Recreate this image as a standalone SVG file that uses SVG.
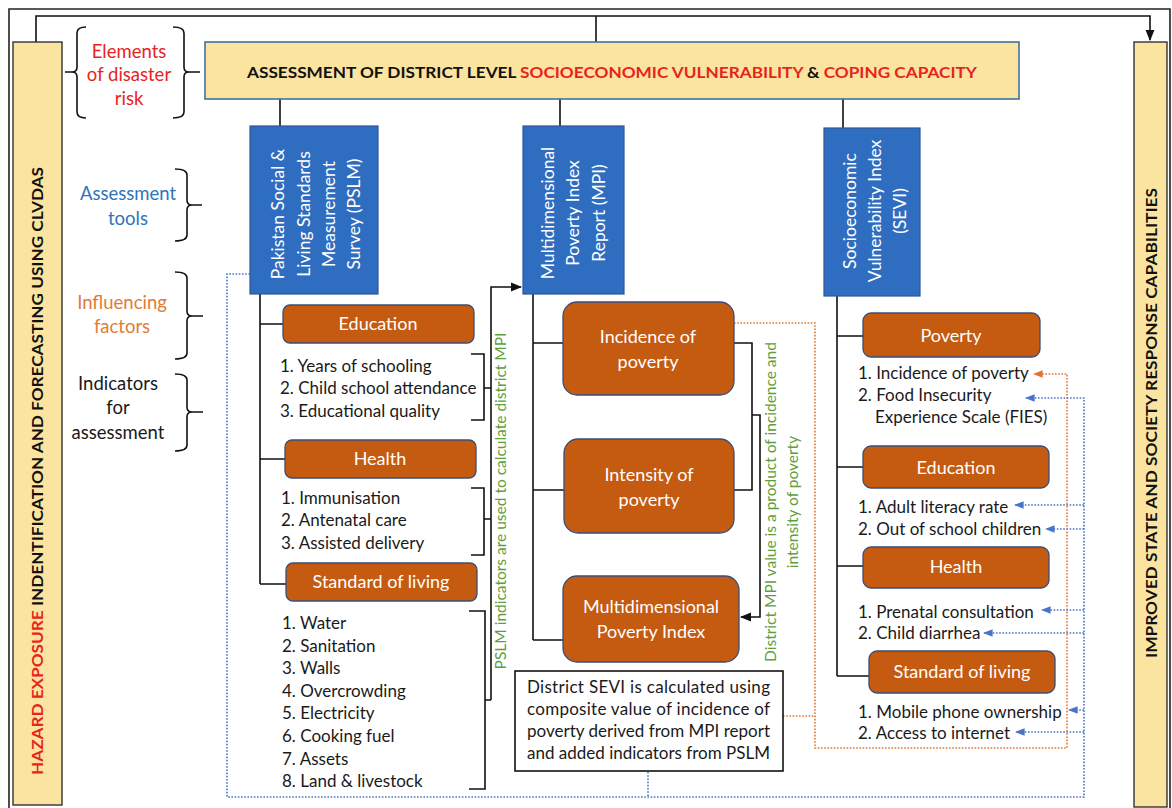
<svg xmlns="http://www.w3.org/2000/svg" width="1172" height="808" viewBox="0 0 1172 808">
<defs>
<style>
text{font-family:Lato,"Open Sans","Liberation Sans",sans-serif}
.it{font-size:17px;fill:#1a1a1a}
.ob{fill:#C55A11;stroke:#3B4E78;stroke-width:1.3}
.obt{fill:#fff;font-size:18px;text-anchor:middle}
.bb{fill:#2E6DC0;stroke:#2F5597;stroke-width:1.2}
.bbt{fill:#fff;font-size:17.5px;text-anchor:middle}
.ln{stroke:#111;stroke-width:1.6;fill:none}
.bd{stroke:#4A74C9;stroke-width:1.6;stroke-dasharray:1.6 1.6;fill:none}
.od{stroke:#E0742F;stroke-width:1.6;stroke-dasharray:1.6 1.6;fill:none}
.gr{fill:#5E9E3C;font-size:15.5px;text-anchor:middle}
.lab{font-size:18.5px;text-anchor:middle}
.red{fill:#E8231E}
</style>
<marker id="ak" viewBox="0 0 10 10" refX="9" refY="5" markerWidth="7" markerHeight="7" orient="auto"><path d="M0,1 L10,5 L0,9 Z" fill="#111"/></marker>
<marker id="ab" viewBox="0 0 10 10" refX="9" refY="5" markerWidth="6" markerHeight="6" orient="auto"><path d="M0,1 L10,5 L0,9 Z" fill="#4A74C9"/></marker>
<marker id="ao" viewBox="0 0 10 10" refX="9" refY="5" markerWidth="6" markerHeight="6" orient="auto"><path d="M0,1 L10,5 L0,9 Z" fill="#E0742F"/></marker>
</defs>
<rect width="1172" height="808" fill="#fff"/>
<path d="M9,808 V9 H1170 V808" fill="none" stroke="#222" stroke-width="1.6"/>

<g id="connectors">
<path class="ln" d="M36,42 V16 H1150 V40" marker-end="url(#ak)"/>
<path class="ln" d="M596,16 V42"/>
<path class="ln" d="M280,99 V126 M560,99 V126 M843,99 V128"/>
<path class="ln" d="M260,294 V584 M260,324 H283 M260,459 H285 M260,584 H286"/>
<path class="ln" d="M471,354 H484 V420 H471 M484,388 H491 M471,488 H484 V555 H471 M484,519 H491 M469,611 H485 V789 H469 M485,700 H491"/>
<path class="ln" d="M491,700 V287 H521" marker-end="url(#ak)"/>
<path class="ln" d="M533,294 V640 M533,343 H563 M533,490 H564 M533,640 H563"/>
<path class="ln" d="M734,343 H752 V490 H734 M752,415 H760 V617 H741" marker-end="url(#ak)"/>
<path class="ln" d="M837,296 V676 M837,336 H863 M837,467 H863 M837,566 H863 M837,676 H869"/>
<path class="bd" d="M250,274 H227 V797 H1084 V398 H1026" marker-end="url(#ab)"/>
<path class="bd" d="M1084,505 H1015" marker-end="url(#ab)"/>
<path class="bd" d="M1084,529 H1046" marker-end="url(#ab)"/>
<path class="bd" d="M1084,610 H1042" marker-end="url(#ab)"/>
<path class="bd" d="M1084,633 H984" marker-end="url(#ab)"/>
<path class="bd" d="M1084,710 H1069" marker-end="url(#ab)"/>
<path class="bd" d="M1084,732 H1016" marker-end="url(#ab)"/>
<path class="bd" d="M648,772 V797"/>
<path class="od" d="M734,323 H815 V748 H1067 V374 H1034" marker-end="url(#ao)"/>
<path class="od" d="M783,716 H815"/>
</g>

<g id="hazard">
<rect x="13" y="42" width="49" height="763" fill="#FBE3A0" stroke="#333" stroke-width="1.4"/>
<text transform="translate(37,471) rotate(-90)" y="6" text-anchor="middle" font-size="16" font-weight="bold" textLength="608" lengthAdjust="spacingAndGlyphs"><tspan class="red">HAZARD EXPOSURE</tspan><tspan fill="#111"> INDENTIFICATION AND FORECASTING USING CLVDAS</tspan></text>
</g>
<g id="improved">
<rect x="1134" y="42" width="33" height="765" fill="#FBE3A0" stroke="#333" stroke-width="1.4"/>
<text transform="translate(1151,423) rotate(-90)" y="6" text-anchor="middle" font-size="16" font-weight="bold" fill="#111" textLength="470" lengthAdjust="spacingAndGlyphs">IMPROVED STATE AND SOCIETY RESPONSE CAPABILITIES</text>
</g>
<g id="header">
<rect x="205" y="42" width="814" height="57" fill="#FBE3A0" stroke="#41719C" stroke-width="1.6"/>
<text x="612" y="78" text-anchor="middle" font-size="16" font-weight="bold" textLength="730" lengthAdjust="spacingAndGlyphs"><tspan fill="#111">ASSESSMENT OF DISTRICT LEVEL </tspan><tspan class="red">SOCIOECONOMIC VULNERABILITY</tspan><tspan fill="#111"> &amp; </tspan><tspan class="red">COPING CAPACITY</tspan></text>
</g>

<g id="labels">
<path class="ln" stroke-width="1.5" d="M86,27 Q77,27 77,33 V67 Q77,72 72,72 H65 M72,72 Q77,72 77,77 V112 Q77,118 86,118"/>
<path class="ln" stroke-width="1.5" d="M173,27 Q184,27 184,33 V67 Q184,72 189,72 H200 M189,72 Q184,72 184,77 V112 Q184,118 173,118"/>
<text class="lab red" x="129" y="58">Elements</text>
<text class="lab red" x="129" y="81">of disaster</text>
<text class="lab red" x="129" y="105">risk</text>
<path class="ln" stroke-width="1.5" d="M175,169 Q187,169 187,175 V200 Q187,205 192,205 H202 M192,205 Q187,205 187,210 V235 Q187,241 175,241"/>
<text class="lab" fill="#2E75B6" x="128" y="200">Assessment</text>
<text class="lab" fill="#2E75B6" x="128" y="225">tools</text>
<path class="ln" stroke-width="1.5" d="M175,272 Q187,272 187,278 V311 Q187,316 192,316 H203 M192,316 Q187,316 187,321 V353 Q187,359 175,359"/>
<text class="lab" fill="#E07B39" x="122" y="309">Influencing</text>
<text class="lab" fill="#E07B39" x="122" y="333">factors</text>
<path class="ln" stroke-width="1.5" d="M175,374 Q187,374 187,380 V407 Q187,412 192,412 H203 M192,412 Q187,412 187,417 V445 Q187,451 175,451"/>
<text class="lab" fill="#1a1a1a" x="118" y="390">Indicators</text>
<text class="lab" fill="#1a1a1a" x="118" y="414">for</text>
<text class="lab" fill="#1a1a1a" x="118" y="439">assessment</text>
</g>

<g id="pslm">
<rect class="bb" x="250" y="126" width="128" height="168"/>
<text class="bbt" transform="translate(278,214) rotate(-90)" y="6">Pakistan Social &amp;</text>
<text class="bbt" transform="translate(304,214) rotate(-90)" y="6">Living Standards</text>
<text class="bbt" transform="translate(329,214) rotate(-90)" y="6">Measurement</text>
<text class="bbt" transform="translate(354,214) rotate(-90)" y="6">Survey (PSLM)</text>
</g>
<g id="pslm-education">
<rect class="ob" x="283" y="305" width="191" height="38" rx="7"/>
<text class="obt" x="378" y="330">Education</text>
<text class="it" x="280" y="372">1. Years of schooling</text>
<text class="it" x="280" y="394">2. Child school attendance</text>
<text class="it" x="280" y="417">3. Educational quality</text>
</g>
<g id="pslm-health">
<rect class="ob" x="285" y="440" width="191" height="38" rx="7"/>
<text class="obt" x="380" y="465">Health</text>
<text class="it" x="281" y="504">1. Immunisation</text>
<text class="it" x="281" y="526">2. Antenatal care</text>
<text class="it" x="281" y="549">3. Assisted delivery</text>
</g>
<g id="pslm-living">
<rect class="ob" x="286" y="563" width="191" height="38" rx="7"/>
<text class="obt" x="381" y="588">Standard of living</text>
<text class="it" x="282" y="629">1. Water</text>
<text class="it" x="282" y="652">2. Sanitation</text>
<text class="it" x="282" y="674">3. Walls</text>
<text class="it" x="282" y="697">4. Overcrowding</text>
<text class="it" x="282" y="719">5. Electricity</text>
<text class="it" x="282" y="742">6. Cooking fuel</text>
<text class="it" x="282" y="765">7. Assets</text>
<text class="it" x="282" y="787">8. Land &amp; livestock</text>
</g>
<g id="pslm-note">
<text class="gr" transform="translate(501,501) rotate(-90)" y="5">PSLM indicators are used to calculate district MPI</text>
</g>

<g id="mpi">
<rect class="bb" x="523" y="126" width="101" height="168"/>
<text class="bbt" transform="translate(548,213) rotate(-90)" y="6">Multidimensional</text>
<text class="bbt" transform="translate(573,213) rotate(-90)" y="6">Poverty Index</text>
<text class="bbt" transform="translate(599,213) rotate(-90)" y="6">Report (MPI)</text>
</g>
<g id="mpi-incidence">
<rect class="ob" x="563" y="302" width="171" height="93" rx="14"/>
<text class="obt" x="648" y="343">Incidence of</text>
<text class="obt" x="648" y="368">poverty</text>
</g>
<g id="mpi-intensity">
<rect class="ob" x="564" y="439" width="170" height="94" rx="14"/>
<text class="obt" x="649" y="481">Intensity of</text>
<text class="obt" x="649" y="506">poverty</text>
</g>
<g id="mpi-index">
<rect class="ob" x="563" y="576" width="176" height="86" rx="14"/>
<text class="obt" x="651" y="613">Multidimensional</text>
<text class="obt" x="651" y="638">Poverty Index</text>
</g>
<g id="mpi-note">
<text class="gr" transform="translate(771,502) rotate(-90)" y="5">District MPI value is a product of incidence and</text>
<text class="gr" transform="translate(793,502) rotate(-90)" y="5">intensity of poverty</text>
</g>
<g id="sevi-note">
<rect x="515" y="671" width="268" height="100" fill="#fff" stroke="#111" stroke-width="1.6"/>
<text class="it" font-size="16" x="527" y="693" textLength="243" lengthAdjust="spacing">District SEVI is calculated using</text>
<text class="it" font-size="16" x="527" y="715" textLength="243" lengthAdjust="spacing">composite value of incidence of</text>
<text class="it" font-size="16" x="527" y="737" textLength="243" lengthAdjust="spacing">poverty derived from MPI report</text>
<text class="it" font-size="16" x="527" y="759">and added indicators from PSLM</text>
</g>

<g id="sevi">
<rect class="bb" x="824" y="128" width="96" height="168"/>
<text class="bbt" transform="translate(850,211) rotate(-90)" y="6">Socioeconomic</text>
<text class="bbt" transform="translate(875,211) rotate(-90)" y="6">Vulnerability Index</text>
<text class="bbt" transform="translate(900,211) rotate(-90)" y="6">(SEVI)</text>
</g>
<g id="sevi-poverty">
<rect class="ob" x="863" y="313" width="177" height="44" rx="8"/>
<text class="obt" x="951" y="342">Poverty</text>
<text class="it" x="858" y="379">1. Incidence of poverty</text>
<text class="it" x="858" y="401">2. Food Insecurity</text>
<text class="it" x="875" y="423">Experience Scale (FIES)</text>
</g>
<g id="sevi-education">
<rect class="ob" x="863" y="446" width="186" height="42" rx="8"/>
<text class="obt" x="956" y="474">Education</text>
<text class="it" x="858" y="513">1. Adult literacy rate</text>
<text class="it" x="858" y="535">2. Out of school children</text>
</g>
<g id="sevi-health">
<rect class="ob" x="863" y="547" width="186" height="41" rx="8"/>
<text class="obt" x="956" y="573">Health</text>
<text class="it" x="858" y="618">1. Prenatal consultation</text>
<text class="it" x="858" y="639">2. Child diarrhea</text>
</g>
<g id="sevi-living">
<rect class="ob" x="869" y="651" width="186" height="42" rx="8"/>
<text class="obt" x="962" y="678">Standard of living</text>
<text class="it" x="858" y="718">1. Mobile phone ownership</text>
<text class="it" x="858" y="739">2. Access to internet</text>
</g>
</svg>
